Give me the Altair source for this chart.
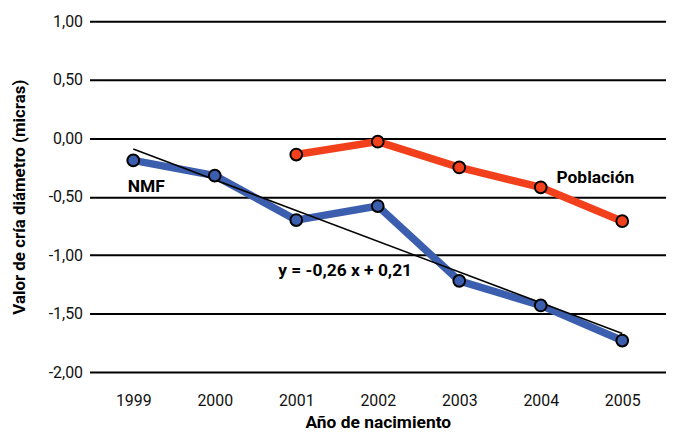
import altair as alt
import pandas as pd

years = [1999, 2000, 2001, 2002, 2003, 2004, 2005]
nmf = [-0.19, -0.32, -0.70, -0.58, -1.22, -1.43, -1.73]
pob_years = [2001, 2002, 2003, 2004, 2005]
pob = [-0.14, -0.03, -0.25, -0.42, -0.71]

label_text = ["NMF", "Población", "y = -0,26 x + 0,21"]
label_year = [1999.16, 2004.67, 2001.6]
label_val = [-0.42, -0.34, -1.14]

FONT = "Roboto, Liberation Sans, sans-serif"
BLUE = "#3b5fae"
RED = "#f2401c"

df_nmf = pd.DataFrame({"year": years, "v": nmf})
df_pob = pd.DataFrame({"year": pob_years, "v": pob})
df_lab = pd.DataFrame({"t": label_text, "year": label_year, "v": label_val})

xs = alt.Scale(domain=[1999 - 0.537, 2005 + 0.537], nice=False, zero=False)
ys = alt.Scale(domain=[-2, 1], nice=False)

x_axis = alt.Axis(values=years, format="d", title="Año de nacimiento", grid=False,
                  ticks=False, domain=False, labelPadding=21, titlePadding=5)
y_axis = alt.Axis(values=[-2, -1.5, -1, -0.5, 0, 0.5, 1], title="Valor de cría diámetro (micras)",
                  labelExpr="replace(replace(format(datum.value, '.2f'), '.', ','), '\u2212', '-')",
                  grid=True, ticks=False, domain=False, labelPadding=7, titlePadding=20)

X = alt.X("year:Q", scale=xs, axis=x_axis)
Y = alt.Y("v:Q", scale=ys, axis=y_axis)

reg = alt.Chart(df_nmf).transform_regression("year", "v").mark_line(
    color="black", strokeWidth=1.5).encode(x=alt.X("year:Q", scale=xs), y=alt.Y("v:Q", scale=ys))

line_nmf = alt.Chart(df_nmf).mark_line(color=BLUE, strokeWidth=7.5).encode(x=X, y=Y)
pts_nmf = alt.Chart(df_nmf).mark_point(filled=True, fill=BLUE, stroke="black", strokeWidth=2,
                                      size=140, opacity=1).encode(x=X, y=Y)
line_pob = alt.Chart(df_pob).mark_line(color=RED, strokeWidth=7.5).encode(x=X, y=Y)
pts_pob = alt.Chart(df_pob).mark_point(filled=True, fill=RED, stroke="black", strokeWidth=2,
                                      size=140, opacity=1).encode(x=X, y=Y)

labels = alt.Chart(df_lab).mark_text(font=FONT, fontWeight="bold", fontSize=17.5, color="#000").encode(
    x=X, y=Y, text="t:N")

chart = alt.layer(line_nmf, reg, line_pob, pts_nmf, pts_pob, labels).properties(
    width=580, height=353,
    autosize=alt.AutoSizeParams(type="none"),
    padding={"left": 82, "top": 12, "right": 0, "bottom": 65},
).configure_view(stroke=None).configure_axis(
    labelFont=FONT, titleFont=FONT, labelFontSize=16, titleFontSize=17.5,
    labelColor="#111", titleColor="#000", titleFontWeight="bold",
    gridColor="black", gridWidth=2, gridOpacity=1,
).configure_axisY(titleFontSize=17)

chart.save("out.html", embed_options={"renderer": "svg", "actions": False})
